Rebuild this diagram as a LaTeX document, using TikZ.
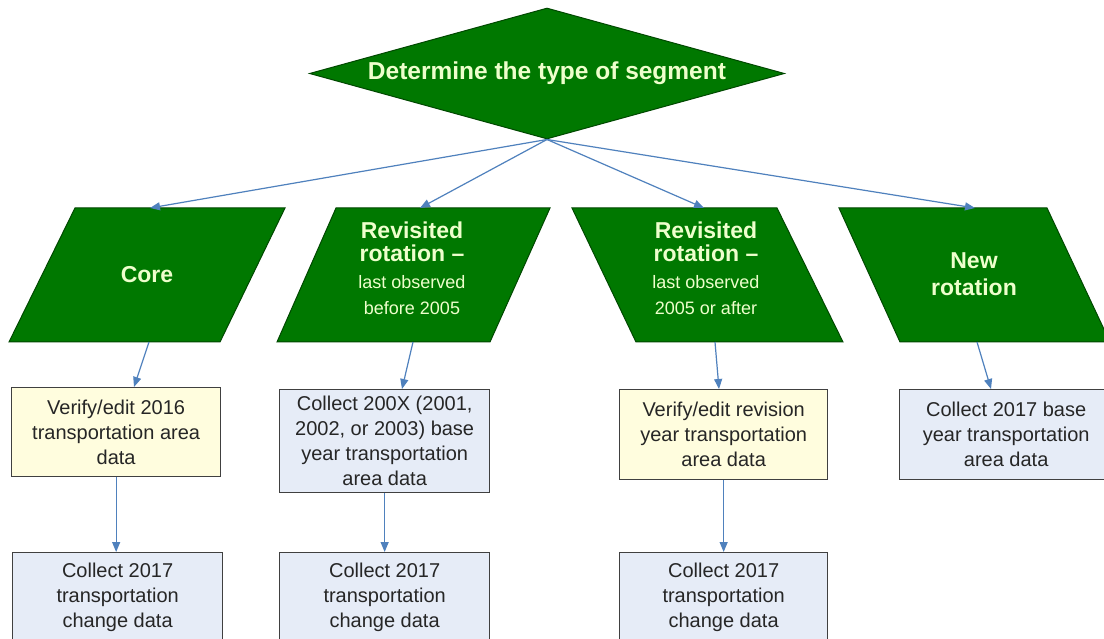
\documentclass[tikz,border=0pt]{standalone}
\usepackage{fontspec}
\setmainfont{Liberation Sans}
\usetikzlibrary{shapes.geometric,arrows.meta}
\definecolor{fillgreen}{RGB}{0,120,0}
\definecolor{edgegreen}{RGB}{0,72,0}
\definecolor{cream}{RGB}{238,255,204}
\definecolor{ybox}{RGB}{255,253,222}
\definecolor{bbox}{RGB}{230,236,247}
\definecolor{boxedge}{RGB}{64,64,64}
\definecolor{boxtext}{RGB}{38,38,38}
\definecolor{arrowblue}{RGB}{79,129,189}
\begin{document}
\begin{tikzpicture}[x=1pt,y=-1pt,
  diam/.style={shape=diamond,fill=fillgreen,draw=edgegreen,line width=1pt,inner sep=0pt,
    minimum width=475pt,minimum height=131pt,aspect=3.6,text=cream,
    font=\fontsize{24.5}{26}\selectfont\bfseries},
  para/.style={fill=fillgreen,draw=edgegreen,line width=1pt},
  ptitle/.style={text=cream,align=center,inner sep=0pt,font=\fontsize{23}{22.5}\selectfont\bfseries},
  psub/.style={text=cream,align=center,inner sep=0pt,font=\fontsize{18}{26}\selectfont},
  boxbase/.style={draw=boxedge,line width=1.3pt,anchor=north west,inner sep=0pt,
    align=center,text=boxtext,font=\fontsize{20}{25}\selectfont},
  yelbox/.style={boxbase,fill=ybox},
  blubox/.style={boxbase,fill=bbox},
  arr/.style={draw=arrowblue,line width=1.2pt,-{Triangle[length=10pt,width=8pt]}}
]
\useasboundingbox (0,0) rectangle (1104,639);
\clip (0,0) rectangle (1104,639);
\fill[white] (0,0) rectangle (1104,639);

% decision diamond
\node[diam] (seg) at (547,73.5) {Determine the type of segment};

% parallelograms
\draw[para] (9,342) -- (75,208) -- (285,208) -- (220,342) -- cycle;
\draw[para] (277,342) -- (336,208) -- (550,208) -- (490,342) -- cycle;
\draw[para] (572,208) -- (777,208) -- (843,342) -- (636,342) -- cycle;
\draw[para] (839,208) -- (1047,208) -- (1110,342) -- (900,342) -- cycle;

\node[ptitle] (core) at (147,275) {Core};
\node[ptitle] (rev1) at (412,242) {Revisited\\rotation –};
\node[psub] (rev1s) at (412,295) {last observed\\before 2005};
\node[ptitle] (rev2) at (706,242) {Revisited\\rotation –};
\node[psub] (rev2s) at (706,295) {last observed\\2005 or after};
\node[ptitle,font=\fontsize{23}{27}\selectfont\bfseries] (newr) at (974,274) {New\\rotation};

% arrow end points on the parallelograms
\coordinate (coreT) at (150,208);
\coordinate (rev1T) at (420,208);
\coordinate (rev2T) at (704,208);
\coordinate (newT) at (975,208);
\coordinate (coreB) at (149,342);
\coordinate (rev1B) at (413,342);
\coordinate (rev2B) at (715,342);
\coordinate (newB) at (977,342);

% first row of boxes
\node[yelbox,minimum width=209pt,minimum height=89pt] (A) at (11,387)
  {Verify/edit 2016\\transportation area\\data};
\node[blubox,minimum width=210pt,minimum height=103pt] (B) at (279,389)
  {Collect 200X (2001,\\2002, or 2003) base\\year transportation\\area data};
\node[yelbox,minimum width=208pt,minimum height=90pt] (C) at (619,389)
  {Verify/edit revision\\year transportation\\area data};
\node[blubox,minimum width=213pt,minimum height=90pt] (D) at (899,389)
  {Collect 2017 base\\year transportation\\area data};

% second row of boxes
\node[blubox,minimum width=210pt,minimum height=90pt] (E) at (12,552)
  {Collect 2017\\transportation\\change data};
\node[blubox,minimum width=210pt,minimum height=90pt] (F) at (279,552)
  {Collect 2017\\transportation\\change data};
\node[blubox,minimum width=208pt,minimum height=90pt] (G) at (619,552)
  {Collect 2017\\transportation\\change data};

\coordinate (Ain) at (134,387);
\coordinate (Bin) at (402,389);
\coordinate (Cin) at (719,389);
\coordinate (Din) at (991,389);

% connectors
\draw[arr] (seg.south) -- (coreT);
\draw[arr] (seg.south) -- (rev1T);
\draw[arr] (seg.south) -- (rev2T);
\draw[arr] (seg.south) -- (newT);
\draw[arr] (coreB) -- (Ain);
\draw[arr] (rev1B) -- (Bin);
\draw[arr] (rev2B) -- (Cin);
\draw[arr] (newB) -- (Din);
\draw[arr] (A.south) -- (A.south |- E.north);
\draw[arr] (B.south) -- (F.north);
\draw[arr] (C.south) -- (G.north);
\end{tikzpicture}
\end{document}
